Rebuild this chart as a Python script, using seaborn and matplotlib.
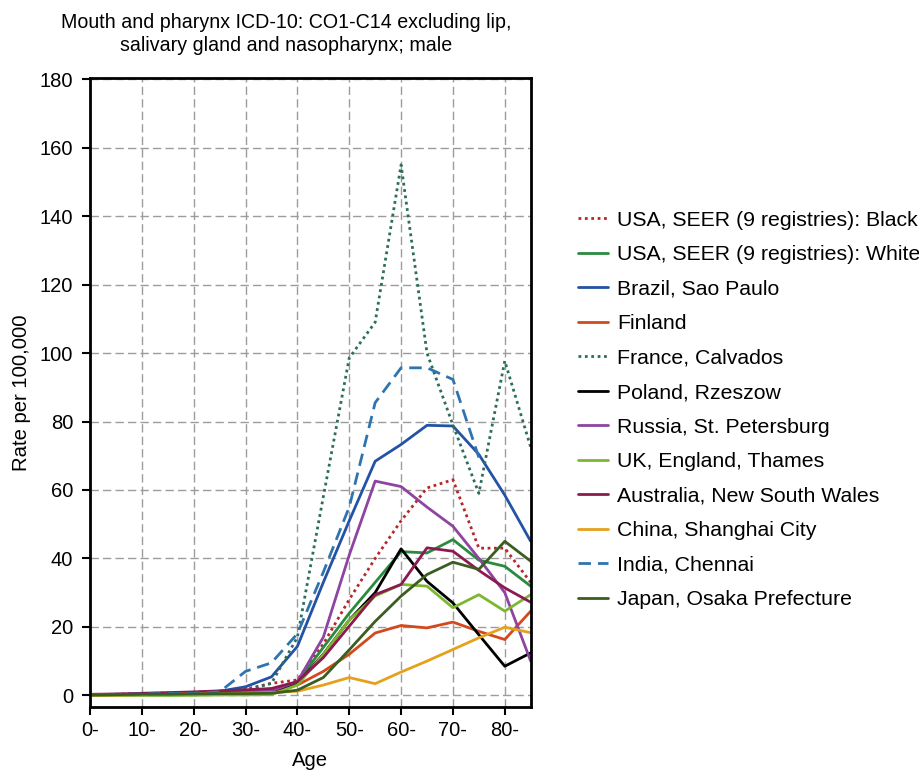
import numpy as np
import pandas as pd
import matplotlib
matplotlib.use("Agg")
import matplotlib.pyplot as plt
import seaborn as sns

sns.set_theme(style="ticks")
plt.rcParams['font.family'] = ['Liberation Sans', 'DejaVu Sans']
plt.rcParams['text.color'] = 'black'

nan = np.nan
ages = [0, 5, 10, 15, 20, 25, 30, 35, 40, 45, 50, 55, 60, 65, 70, 75, 80, 85]
age_ticks = [0, 10, 20, 30, 40, 50, 60, 70, 80]
age_tick_labels = ["0-", "10-", "20-", "30-", "40-", "50-", "60-", "70-", "80-"]
y_ticks = [0, 20, 40, 60, 80, 100, 120, 140, 160, 180]

usa_black = [0.2, 0.3, 0.5, 0.7, 0.9, 1.2, 1.8, 3.5, 4.5, 15, 28, 40, 51, 60.6, 63, 43, 43, 33]
usa_white = [0, 0, 0.1, 0.1, 0.2, 0.3, 0.4, 0.4, 4, 14, 24, 33, 42, 41.6, 45.5, 39.5, 37.7, 31.9]
brazil = [0.1, 0.2, 0.3, 0.5, 0.8, 1.2, 2.5, 5.4, 14.3, 33, 51, 68.4, 73.3, 78.9, 78.7, 70.4, 58.5, 45]
finland = [0.1, 0.2, 0.3, 0.4, 0.5, 0.7, 0.9, 1.2, 3, 7, 12, 18.2, 20.4, 19.7, 21.4, 18.7, 16.3, 24.6]
france = [0.2, 0.3, 0.4, 0.6, 0.8, 1.0, 1.5, 3.5, 17, 58, 98.6, 109, 155, 100, 79, 59, 97.7, 72.5]
poland = [0.1, 0.2, 0.3, 0.4, 0.6, 0.8, 1.0, 1.3, 3.5, 12, 22, 30, 42.8, 33.3, 27, 17.7, 8.5, 12.4]
russia = [0.1, 0.2, 0.3, 0.4, 0.6, 0.8, 1.0, 1.3, 4, 17, 41, 62.6, 61, 55, 49.4, 40, 30, 10]
uk = [0, 0, 0, 0, 0, 0.1, 0.1, 0.2, 3, 11.9, 22, 29, 32.4, 31.9, 25.6, 29.4, 24.6, 29.4]
australia = [0.3, 0.4, 0.6, 0.8, 1.0, 1.3, 1.6, 2.0, 4, 11, 20.2, 29.4, 32.4, 43.1, 42.1, 36.5, 31.4, 27.2]
china = [0.1, 0.1, 0.2, 0.3, 0.4, 0.5, 0.6, 0.8, 1.2, 3, 5.2, 3.4, 6.8, 10, 13.4, 16.8, 19.9, 18.3]
india = [0.2, 0.3, 0.4, 0.5, 0.6, 1.0, 7, 9.5, 18, 36, 55, 85.5, 95.7, 95.7, 92.3, 69.5, nan, nan]
japan = [0.1, 0.2, 0.3, 0.3, 0.4, 0.5, 0.5, 0.6, 1.5, 5.2, 13.3, 21.6, 29, 35.3, 38.9, 36.8, 45, 39.2]

series = [
    ("USA, SEER (9 registries): Black", usa_black, "#b8262a", (0, (1, 1.3))),
    ("USA, SEER (9 registries): White", usa_white, "#2a8a3e", "-"),
    ("Brazil, Sao Paulo", brazil, "#2452a4", "-"),
    ("Finland", finland, "#d2491b", "-"),
    ("France, Calvados", france, "#2b6e5a", (0, (1, 1.3))),
    ("Poland, Rzeszow", poland, "#000000", "-"),
    ("Russia, St. Petersburg", russia, "#8e44a0", "-"),
    ("UK, England, Thames", uk, "#7cb82f", "-"),
    ("Australia, New South Wales", australia, "#8b1a4f", "-"),
    ("China, Shanghai City", china, "#e5a11c", "-"),
    ("India, Chennai", india, "#2e75b0", (0, (4.5, 2.5))),
    ("Japan, Osaka Prefecture", japan, "#3a5e1f", "-"),
]

fig = plt.figure(figsize=(9.2, 7.7), dpi=100)
ax = fig.add_axes([90 / 920, 1 - 707.3 / 770, (530.7 - 90) / 920, (707.3 - 78.3) / 770])

for name, vals, color, ls in series:
    df = pd.DataFrame({"Age": ages, "Rate": vals})
    sns.lineplot(data=df, x="Age", y="Rate", ax=ax, color=color, linestyle=ls,
                 linewidth=2.0, label=name)

ax.set_xlim(0, 85)
ax.set_ylim(-3.5, 180.3)
ax.set_xticks(age_ticks)
ax.set_xticklabels(age_tick_labels)
ax.set_yticks(y_ticks)
ax.grid(True, linestyle=(0, (6, 3)), color="#9c9c9c", linewidth=1.0)
ax.set_axisbelow(True)
for s in ax.spines.values():
    s.set_visible(True)
    s.set_color("black")
    s.set_linewidth(2.0)
ax.tick_params(axis="both", direction="out", length=6, width=1.5, color="black",
               labelsize=14.5, pad=4, labelcolor="black")
ax.tick_params(axis="y", pad=6)
ax.set_xlabel("Age", fontsize=14.6, labelpad=8, color="black")
ax.set_ylabel("Rate per 100,000", fontsize=14.6, labelpad=6, color="black")

fig.text(286 / 920, 1 - 34 / 770,
         "Mouth and pharynx ICD-10: CO1-C14 excluding lip,\nsalivary gland and nasopharynx; male",
         ha="center", va="center", fontsize=14.1, linespacing=1.25, color="black")

leg = ax.legend(loc="center left", bbox_to_anchor=(578 / 920, 1 - 410 / 770),
                bbox_transform=fig.transFigure, frameon=False, fontsize=15.3,
                handlelength=1.4, handletextpad=0.45, labelspacing=0.73,
                borderpad=0, borderaxespad=0, labelcolor="black")

fig.savefig("out.png", dpi=100)
